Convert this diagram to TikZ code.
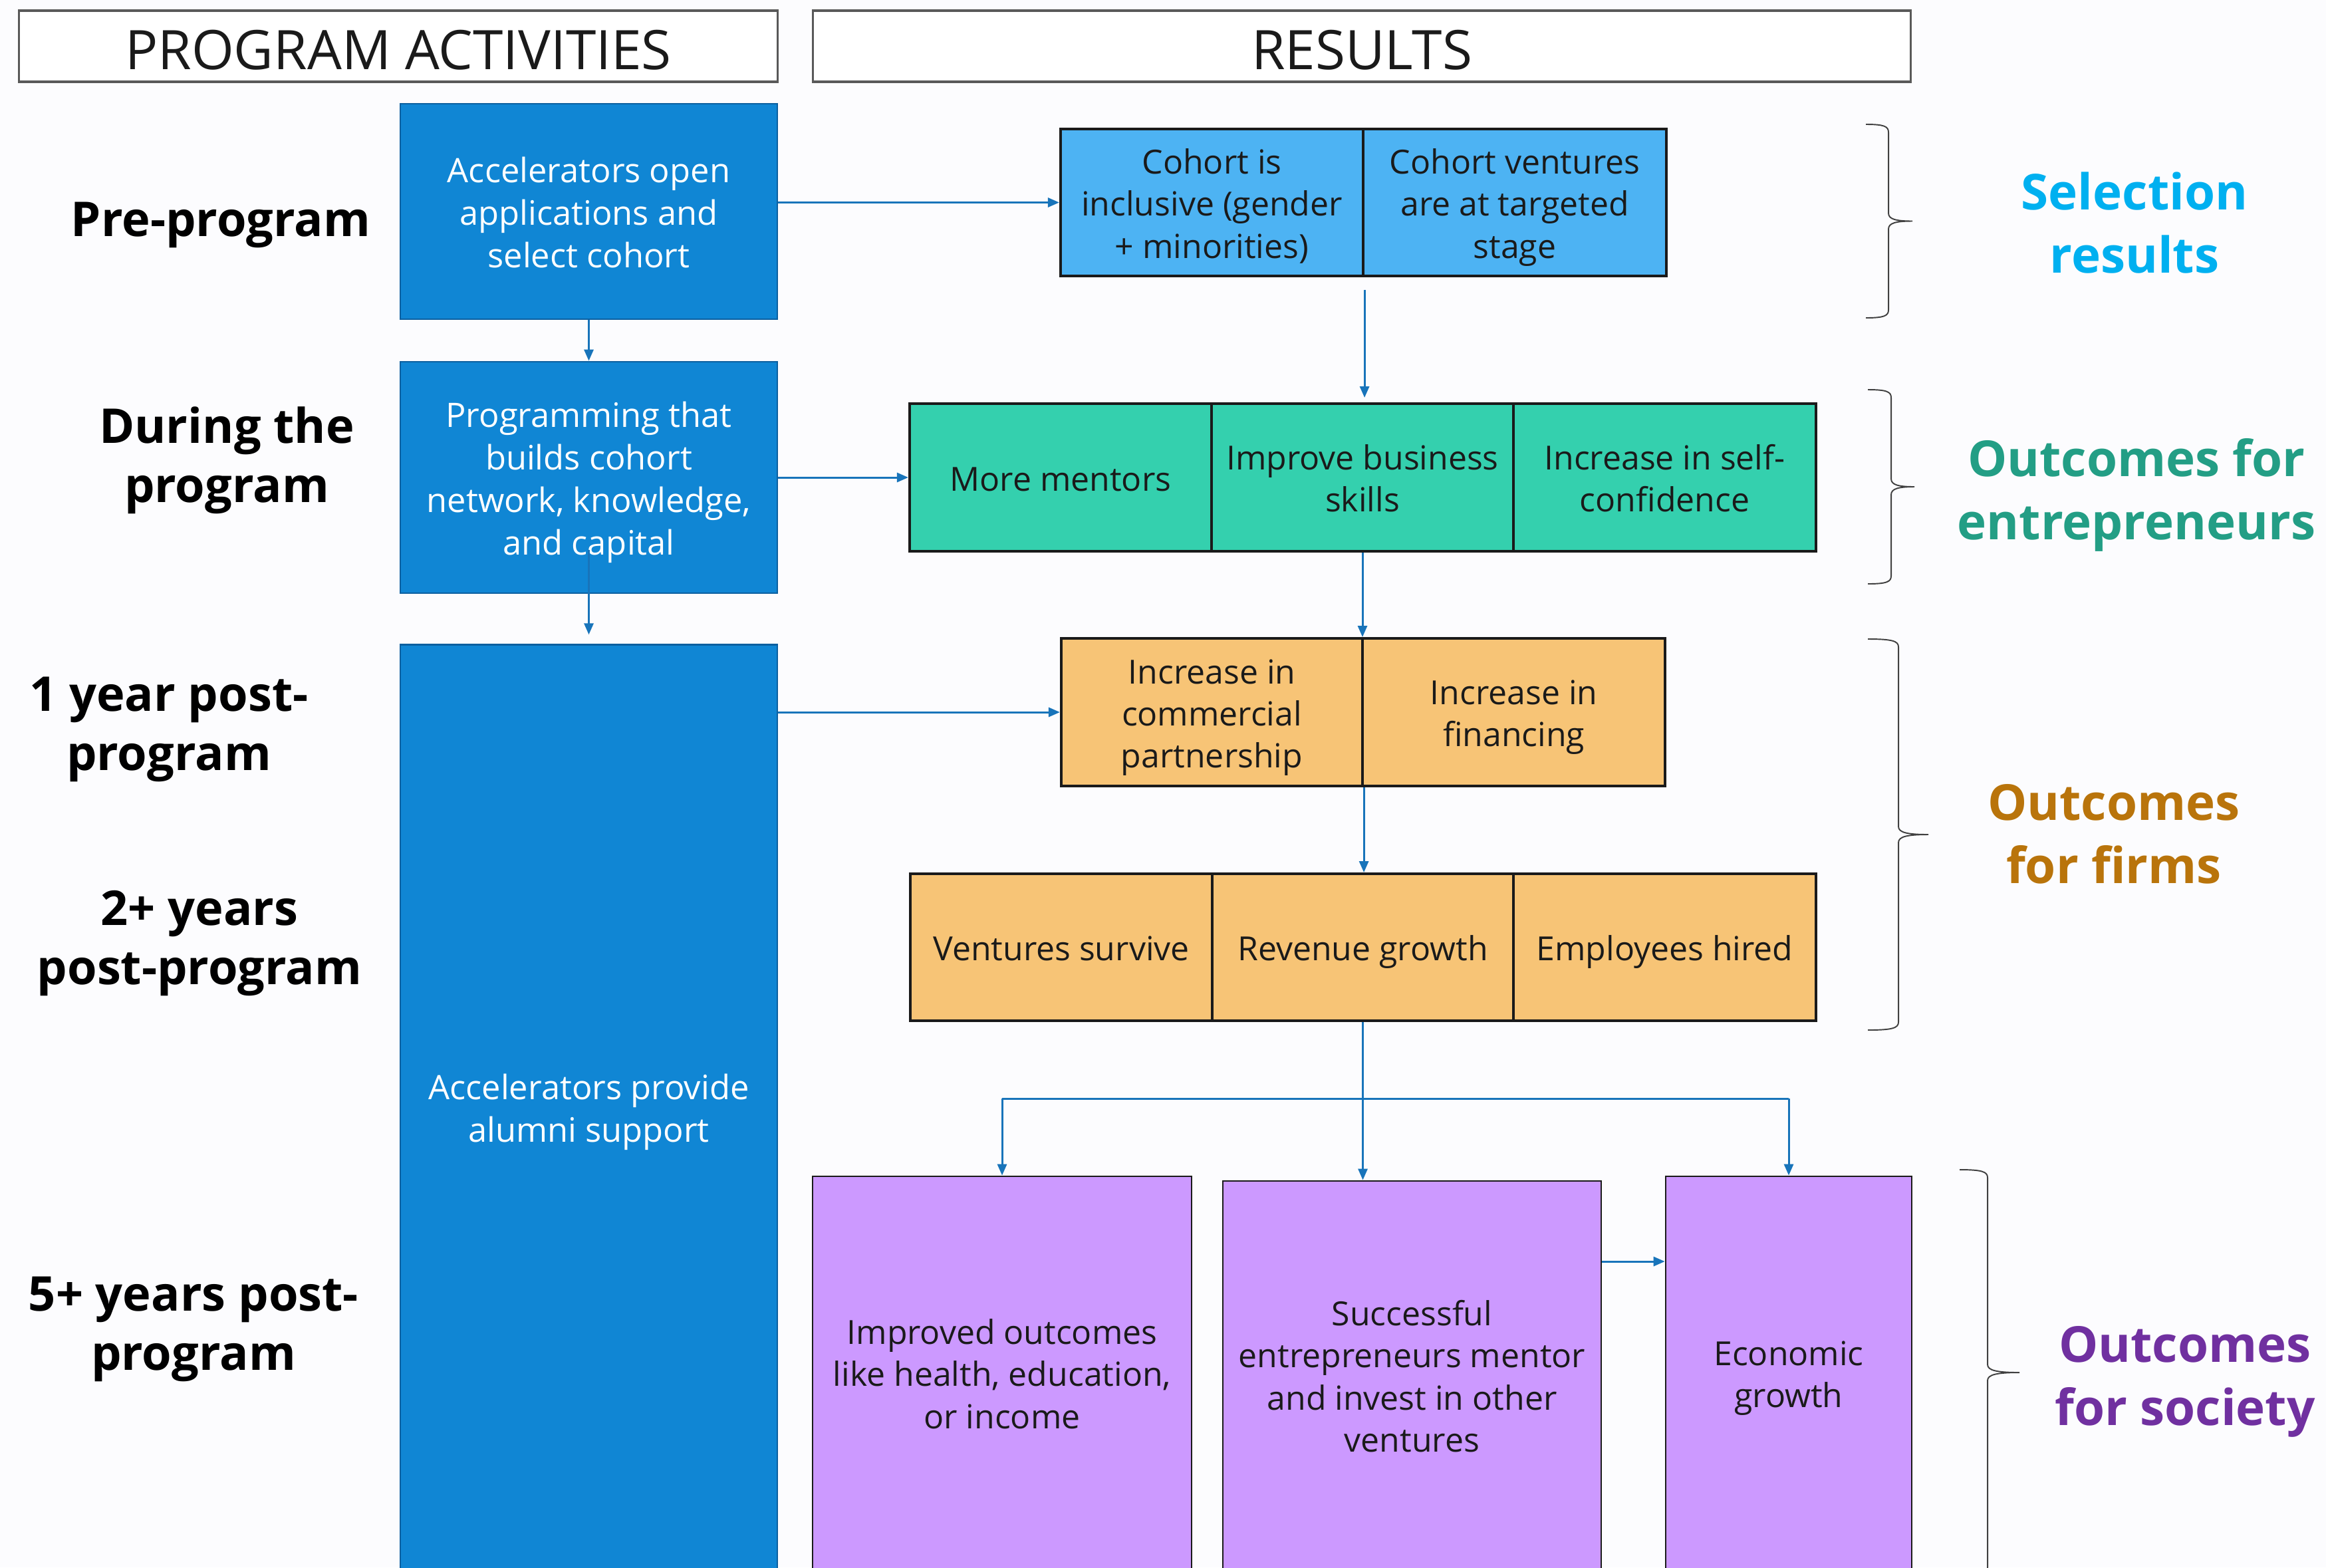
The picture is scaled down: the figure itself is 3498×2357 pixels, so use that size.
\documentclass[tikz,border=0pt]{standalone}
\usepackage{fontspec}
\setmainfont{Open Sans}
\usetikzlibrary{arrows.meta}
\definecolor{bgc}{RGB}{252,252,254}
\definecolor{cAct}{RGB}{16,134,212}
\definecolor{cActB}{RGB}{12,96,160}
\definecolor{cSel}{RGB}{77,179,243}
\definecolor{cGrn}{RGB}{52,208,174}
\definecolor{cOrg}{RGB}{247,196,118}
\definecolor{cPur}{RGB}{204,153,255}
\definecolor{cConn}{RGB}{24,116,186}
\definecolor{cSelT}{RGB}{0,176,240}
\definecolor{cGrnT}{RGB}{35,158,133}
\definecolor{cOrgT}{RGB}{185,116,11}
\definecolor{cPurT}{RGB}{112,48,160}
\definecolor{cTxt}{RGB}{26,26,26}
% struts in first and last line, to centre texts like the original
\newcommand{\tx}[1]{\rule{0pt}{1.2em}#1\rule[-0.386em]{0pt}{0.386em}}
\newcommand{\lx}[1]{\rule{0pt}{1.09em}#1\rule[-0.386em]{0pt}{0.386em}}
\newcommand{\mybrace}[5]{%
\draw[brc] (#1,#4) .. controls ({#1+0.8*(#2-#1)},#4) and (#2,{#4+3}) .. (#2,{#4+12})
 -- (#2,{(#4+#5)/2-12}) .. controls (#2,{(#4+#5)/2-3}) and ({#2+0.3*(#3-#2)},{(#4+#5)/2}) .. (#3,{(#4+#5)/2})
 .. controls ({#2+0.3*(#3-#2)},{(#4+#5)/2}) and (#2,{(#4+#5)/2+3}) .. (#2,{(#4+#5)/2+12})
 -- (#2,{#5-12}) .. controls (#2,{#5-3}) and ({#1+0.8*(#2-#1)},#5) .. (#1,#5);}
\begin{document}
\begin{tikzpicture}[x=0.01cm,y=-0.01cm,
  hdr/.style={draw=black!65, line width=0.9pt, fill=white, minimum height=1.07cm, inner sep=0pt, text height=24.5pt, text depth=4.7pt, text=cTxt, font=\fontsize{23.3}{28}\selectfont},
  bluebox/.style={draw=cActB, line width=0.7pt, fill=cAct, text=white, align=center, inner sep=0pt, font=\fontsize{14.4}{18.2}\selectfont},
  cell/.style={draw=cTxt, line width=1.1pt, align=center, inner sep=0pt, text=cTxt, font=\fontsize{14.2}{18}\selectfont},
  sel/.style={cell, fill=cSel},
  grn/.style={cell, fill=cGrn},
  org/.style={cell, fill=cOrg},
  pur/.style={cell, fill=cPur, line width=0.7pt},
  lbl/.style={align=center, text=black, font=\bfseries\fontsize{20.5}{25.3}\selectfont},
  blbl/.style={align=center, font=\bfseries\fontsize{21.2}{27}\selectfont},
  connl/.style={draw=cConn, line width=0.85pt},
  conn/.style={connl, -{Triangle[length=0.17cm,width=0.14cm]}},
  brc/.style={draw=black!75, line width=0.55pt}
]
\useasboundingbox (0,0) rectangle (3498,2357);
\fill[bgc] (0,0) rectangle (3498,2357);

% headers
\node[hdr, minimum width=11.40cm] (hL) at (599,69.5) {PROGRAM ACTIVITIES};
\node[hdr, minimum width=16.50cm] (hR) at (2048,69.5) {RESULTS};

% program activities
\node[bluebox, minimum width=5.67cm, minimum height=3.24cm] (b1) at (885.5,318) {\tx{Accelerators open\\applications and\\select cohort}};
\node[bluebox, minimum width=5.67cm, minimum height=3.48cm] (b2) at (885.5,718) {\tx{Programming that\\builds cohort\\network, knowledge,\\and capital}};
\node[bluebox, minimum width=5.67cm, minimum height=13.90cm] (b3) at (885.5,1665) {\tx{Accelerators provide\\alumni support}};

% results
\node[sel, minimum width=4.55cm, minimum height=2.21cm] (s1) at (1822.5,304.5) {\tx{Cohort is\\inclusive (gender\\+ minorities)}};
\node[sel, minimum width=4.56cm, minimum height=2.21cm] (s2) at (2278,304.5) {\tx{Cohort ventures\\are at targeted\\stage}};

\node[grn, minimum width=4.54cm, minimum height=2.22cm] (g1) at (1595,718) {\tx{More mentors}};
\node[grn, minimum width=4.54cm, minimum height=2.22cm] (g2) at (2049,718) {\tx{Improve business\\skills}};
\node[grn, minimum width=4.55cm, minimum height=2.22cm] (g3) at (2503.5,718) {\tx{Increase in self-\\confidence}};

\node[org, minimum width=4.53cm, minimum height=2.22cm] (o1) at (1822.5,1071) {\tx{Increase in\\commercial\\partnership}};
\node[org, minimum width=4.55cm, minimum height=2.22cm] (o2) at (2276.5,1071) {\tx{Increase in\\financing}};

\node[org, minimum width=4.54cm, minimum height=2.21cm] (o3) at (1596,1424.5) {\tx{Ventures survive}};
\node[org, minimum width=4.53cm, minimum height=2.21cm] (o4) at (2049.5,1424.5) {\tx{Revenue growth}};
\node[org, minimum width=4.55cm, minimum height=2.21cm] (o5) at (2503.5,1424.5) {\tx{Employees hired}};

\node[pur, minimum width=5.70cm, minimum height=5.91cm] (p1) at (1507,2064.5) {\tx{Improved outcomes\\like health, education,\\or income}};
\node[pur, minimum width=5.69cm, minimum height=5.84cm] (p2) at (2123.5,2068) {\tx{Successful\\entrepreneurs mentor\\and invest in other\\ventures}};
\node[pur, minimum width=3.70cm, minimum height=5.91cm] (p3) at (2690,2064.5) {\tx{Economic\\growth}};

% left labels
\node[lbl] (l1) at (332,330) {\lx{Pre-program}};
\node[lbl] (l2) at (341,686) {\lx{During the\\program}};
\node[lbl] (l3) at (254,1089) {\lx{1 year post-\\program}};
\node[lbl] (l4) at (300,1411) {\lx{2+ years\\post-program}};
\node[lbl] (l5) at (291,1991) {\lx{5+ years post-\\program}};

% right labels
\node[blbl, text=cSelT] (r1) at (3210,337) {\lx{Selection\\results}};
\node[blbl, text=cGrnT] (r2) at (3213,738) {\lx{Outcomes for\\entrepreneurs}};
\node[blbl, text=cOrgT] (r3) at (3179,1255) {\lx{Outcomes\\for firms}};
\node[blbl, text=cPurT] (r4) at (3286,2070) {\lx{Outcomes\\for society}};

% braces
\mybrace{2806}{2840}{2876}{187}{478}
\mybrace{2809}{2844}{2879}{586}{878}
\mybrace{2809}{2855}{2900}{961}{1549}
\mybrace{2947}{2989}{3037}{1759}{2369}

% connectors
\draw[conn] (b1.east |- s1.west) -- (s1.west);
\draw[conn] (b1.south) -- (b2.north);
\draw[conn] ([yshift=0.66cm]b2.south) -- ([yshift=0.14cm]b3.north);
\draw[conn] (b2.east) -- (g1.west);
\draw[conn] (b3.east |- o1.west) -- (o1.west);
\draw[conn] ([yshift=-0.19cm]s1.south east) -- ([yshift=0.07cm]s1.south east |- g2.north);
\draw[conn] (g2.south) -- (g2.south |- o1.north);
\draw[conn] (o1.south east) -- (o1.south east |- o4.north);
\coordinate (split) at (2050,1652);
\coordinate (pp) at (0,1897);
\draw[connl] (o4.south) -- (o4.south |- split);
\draw[connl] (p1.north |- split) -- (p3.north |- split);
\draw[conn] (p1.north |- split) -- (p1.north);
\draw[conn] (o4.south |- split) -- (o4.south |- p2.north);
\draw[conn] (p3.north |- split) -- (p3.north);
\draw[conn] (p2.east |- pp) -- (p3.west |- pp);
\end{tikzpicture}
\end{document}
